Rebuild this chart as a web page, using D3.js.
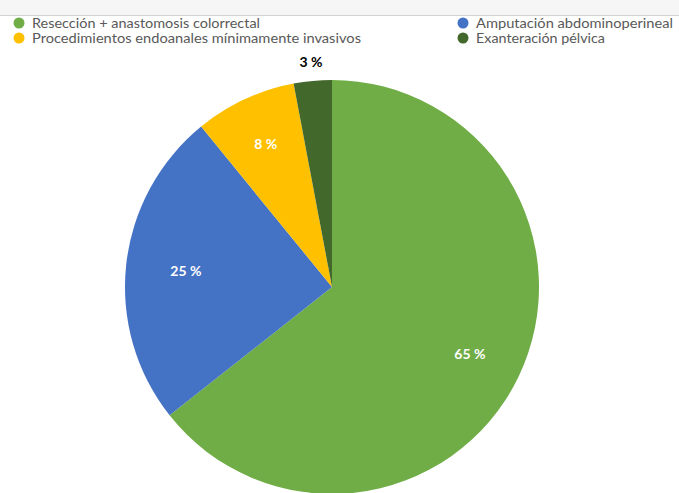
<!DOCTYPE html>
<html>
<head>
<meta charset="utf-8">
<script src="https://cdn.jsdelivr.net/npm/d3@7"></script>
<style>
  html, body { margin: 0; padding: 0; background: #fff; }
  svg { display: block; }
</style>
</head>
<body>
<svg id="chart" width="679" height="493"></svg>
<script>
// Tipos de cirugía (porcentaje de pacientes)
const categories = [
  "Resección + anastomosis colorrectal",
  "Amputación abdominoperineal",
  "Procedimientos endoanales mínimamente invasivos",
  "Exanteración pélvica"
];
const values = [65, 25, 8, 3];
const labels = ["65 %", "25 %", "8 %", "3 %"];
const colors = ["#70AD47", "#4472C4", "#FFC000", "#43682B"];

const width = 679, height = 493;
const svg = d3.select("#chart");

// header band and rule above the legend
svg.append("rect").attr("x", 0).attr("y", 0).attr("width", width).attr("height", 15)
  .attr("fill", "#f6f6f6");
svg.append("line").attr("x1", 0).attr("x2", width).attr("y1", 15.5).attr("y2", 15.5)
  .attr("stroke", "#d2d2d2").attr("stroke-width", 1.2);

// legend: two columns, two rows
const font = "Lato, 'Open Sans', sans-serif";
const legendPos = [
  { x: 19, y: 23, tx: 32, w: 228 },
  { x: 463, y: 23, tx: 476, w: 197 },
  { x: 19, y: 38, tx: 32, w: 329 },
  { x: 463, y: 38, tx: 476, w: 129 }
];
const legend = svg.append("g").selectAll("g")
  .data(categories)
  .join("g");
legend.append("circle")
  .attr("cx", (d, i) => legendPos[i].x)
  .attr("cy", (d, i) => legendPos[i].y)
  .attr("r", 5.5)
  .attr("fill", (d, i) => colors[i]);
legend.append("text")
  .attr("x", (d, i) => legendPos[i].tx)
  .attr("y", (d, i) => legendPos[i].y + 4.6)
  .attr("font-family", font)
  .attr("font-size", 12.5)
  .attr("fill", "#595959")
  .attr("textLength", (d, i) => legendPos[i].w)
  .attr("lengthAdjust", "spacingAndGlyphs")
  .text(d => d);

// pie
const cx = 332, cy = 287, radius = 207;
const pie = d3.pie().sort(null).value(d => d);
const arcs = pie(values);
const arc = d3.arc().innerRadius(0).outerRadius(radius);
// label distance from the centre, as a fraction of the radius
const labelRadius = [0.74, 0.71, 0.76, 1.09];

const g = svg.append("g").attr("transform", `translate(${cx},${cy})`);
g.selectAll("path")
  .data(arcs)
  .join("path")
  .attr("d", arc)
  .attr("fill", (d, i) => colors[i]);

// value labels: inside the large slices, outside the smallest one
g.selectAll("text.val")
  .data(arcs)
  .join("text")
  .attr("class", "val")
  .attr("transform", (d, i) => {
    const r = radius * labelRadius[i];
    const [x, y] = d3.arc().innerRadius(r).outerRadius(r).centroid(d);
    return `translate(${x},${y})`;
  })
  .attr("text-anchor", "middle")
  .attr("dy", "0.35em")
  .attr("font-family", font)
  .attr("font-weight", "bold")
  .attr("font-size", 14)
  .attr("fill", (d, i) => i === 3 ? "#000" : "#fff")
  .text((d, i) => labels[i]);
</script>
</body>
</html>
